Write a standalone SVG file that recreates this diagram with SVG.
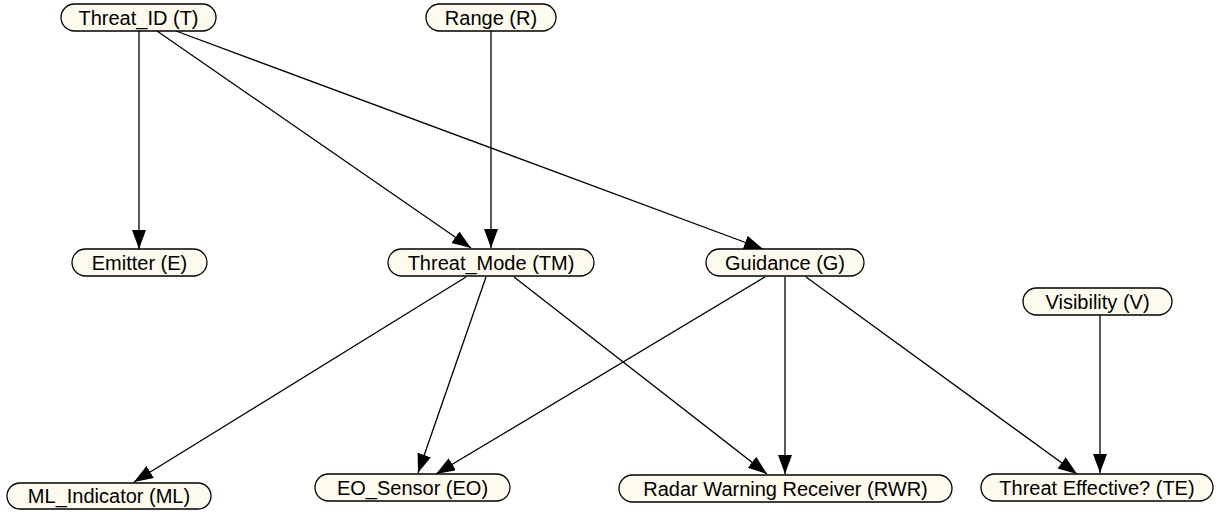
<svg xmlns="http://www.w3.org/2000/svg" width="1218" height="512" viewBox="0 0 1218 512">
<style>
.n rect{fill:#fffaee;stroke:#000;stroke-width:1.3}
.n text{font-family:"Liberation Sans",Arial,sans-serif;font-size:20px;fill:#000;text-anchor:middle}
.e line{stroke:#000;stroke-width:1.3;marker-end:url(#ah)}
</style>
<defs>
<marker id="ah" markerUnits="userSpaceOnUse" markerWidth="20" markerHeight="16" refX="19" refY="7" orient="auto">
<path d="M0,0 L19,7 L0,14 Z" fill="#000"/>
</marker>
</defs>
<rect width="1218" height="512" fill="#fff"/>
<g id="edges" class="e">
<line x1="139" y1="31" x2="139" y2="249"/>
<line x1="157" y1="31" x2="471" y2="248"/>
<line x1="176" y1="31" x2="763" y2="249"/>
<line x1="491" y1="31" x2="491" y2="248"/>
<line x1="466" y1="277" x2="134" y2="482"/>
<line x1="486" y1="277" x2="418" y2="473"/>
<line x1="514" y1="277" x2="767" y2="474"/>
<line x1="765" y1="277" x2="436" y2="474"/>
<line x1="785" y1="277" x2="785" y2="474"/>
<line x1="806" y1="277" x2="1077" y2="474"/>
<line x1="1100" y1="315" x2="1100" y2="473"/>
</g>
<g id="T" class="n"><rect x="61" y="4" width="155" height="27" rx="13.5"/><text x="138.5" y="25">Threat_ID (T)</text></g>
<g id="R" class="n"><rect x="426" y="4" width="130" height="27" rx="13.5"/><text x="491" y="25">Range (R)</text></g>
<g id="E" class="n"><rect x="72" y="249" width="135" height="27" rx="13.5"/><text x="139.5" y="270">Emitter (E)</text></g>
<g id="TM" class="n"><rect x="388" y="249" width="206" height="27" rx="13.5"/><text x="491" y="270">Threat_Mode (TM)</text></g>
<g id="G" class="n"><rect x="706" y="249" width="158" height="27" rx="13.5"/><text x="785" y="270">Guidance (G)</text></g>
<g id="V" class="n"><rect x="1023" y="288" width="149" height="27" rx="13.5"/><text x="1097.5" y="309">Visibility (V)</text></g>
<g id="ML" class="n"><rect x="7" y="483" width="204" height="26" rx="13"/><text x="109" y="503">ML_Indicator (ML)</text></g>
<g id="EO" class="n"><rect x="315" y="474" width="195" height="27" rx="13.5"/><text x="412.5" y="495">EO_Sensor (EO)</text></g>
<g id="RWR" class="n"><rect x="619" y="475" width="333" height="27" rx="13.5"/><text x="785.5" y="496">Radar Warning Receiver (RWR)</text></g>
<g id="TE" class="n"><rect x="981" y="474" width="232" height="27" rx="13.5"/><text x="1097" y="495">Threat Effective? (TE)</text></g>
</svg>
